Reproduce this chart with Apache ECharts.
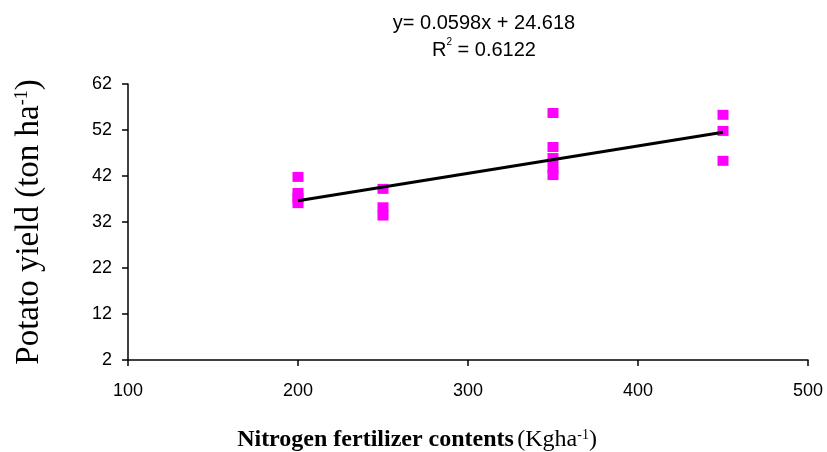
<!DOCTYPE html>
<html>
<head>
<meta charset="utf-8">
<script src="https://cdn.jsdelivr.net/npm/echarts@6/dist/echarts.min.js"></script>
<style>
  html, body { margin: 0; padding: 0; background: #fff; }
  #chart { width: 827px; height: 452px; }
</style>
</head>
<body>
<div id="chart"></div>
<script>
// N rate (kg/ha) and yield (ton/ha)
var nitrogen = [200, 200, 200, 200, 250, 250, 250, 350, 350, 350, 350, 350, 450, 450, 450];
var yieldVals = [41.8, 38.3, 37.2, 36.1, 39.2, 35.2, 33.4, 55.7, 48.3, 45.9, 43.8, 42.2, 55.3, 51.8, 45.3];

// trend line end points
var trendX = [200, 450];
var trendY = [36.6, 51.5];

var xTicks = [100, 500, 100]; // min, max, step
var yTicks = [2, 62, 10];

var points = nitrogen.map(function (n, i) { return [n, yieldVals[i]]; });
var trend = trendX.map(function (n, i) { return [n, trendY[i]]; });

var myChart = echarts.init(document.getElementById("chart"));

var axisCommon = {
  axisLine: { show: true, lineStyle: { color: "#000", width: 1.5 } },
  axisTick: { show: true, inside: false, length: 6, lineStyle: { color: "#000", width: 1.5 } },
  splitLine: { show: false },
  axisLabel: { color: "#000", fontFamily: "Liberation Sans, Arial", fontSize: 18 }
};

var option = {
  animation: false,
  title: {
    left: 479,
    top: 5,
    textAlign: "center",
    text: "{t|y= 0.0598x + 24.618}\n{t|R}{s|2}{t| = 0.6122}",
    textStyle: {
      fontWeight: "normal",
      rich: {
        t: { fontFamily: "Liberation Sans, Arial", fontSize: 20, fontWeight: "normal", color: "#000", lineHeight: 27 },
        s: { fontFamily: "Liberation Sans, Arial", fontSize: 10, fontWeight: "normal", color: "#000", verticalAlign: "top", lineHeight: 27, padding: [0, 0, 8, 0] }
      }
    }
  },
  grid: { left: 128, right: 19, top: 84, bottom: 92, containLabel: false, outerBoundsMode: "none" },
  xAxis: Object.assign({}, axisCommon, {
    type: "value",
    min: xTicks[0],
    max: xTicks[1],
    interval: xTicks[2],
    axisLabel: Object.assign({}, axisCommon.axisLabel, { margin: 22 }),
    name: "{b|Nitrogen fertilizer contents} {a|(Kgha}{s|-1}{a|)}",
    nameLocation: "middle",
    nameGap: 68,
    nameTextStyle: {
      padding: [0, 102, 0, 0],
      rich: {
        b: { fontFamily: "Liberation Serif, Times New Roman", fontWeight: "bold", fontSize: 24, color: "#000" },
        a: { fontFamily: "Liberation Serif, Times New Roman", fontSize: 24, color: "#000" },
        s: { fontFamily: "Liberation Serif, Times New Roman", fontSize: 14, color: "#000", verticalAlign: "top", padding: [0, 0, 10, 0] }
      }
    }
  }),
  yAxis: Object.assign({}, axisCommon, {
    type: "value",
    min: yTicks[0],
    max: yTicks[1],
    interval: yTicks[2],
    axisLabel: Object.assign({}, axisCommon.axisLabel, { margin: 16 }),
    name: "{a|Potato yield (ton ha}{s|-1}{a|)}",
    nameLocation: "middle",
    nameRotate: 90,
    nameGap: 82,
    nameTextStyle: {
      rich: {
        a: { fontFamily: "Liberation Serif, Times New Roman", fontSize: 33, color: "#000" },
        s: { fontFamily: "Liberation Serif, Times New Roman", fontSize: 18, color: "#000", verticalAlign: "top", padding: [0, 0, 14, 0] }
      }
    }
  }),
  series: [
    {
      name: "trend",
      type: "line",
      data: trend,
      symbol: "none",
      lineStyle: { color: "#000", width: 3 },
      z: 3
    },
    {
      name: "yield",
      type: "scatter",
      data: points,
      symbol: "rect",
      symbolSize: [11, 10],
      itemStyle: { color: "#ff00ff", opacity: 1 },
      z: 2
    }
  ]
};

myChart.setOption(option);
</script>
</body>
</html>
